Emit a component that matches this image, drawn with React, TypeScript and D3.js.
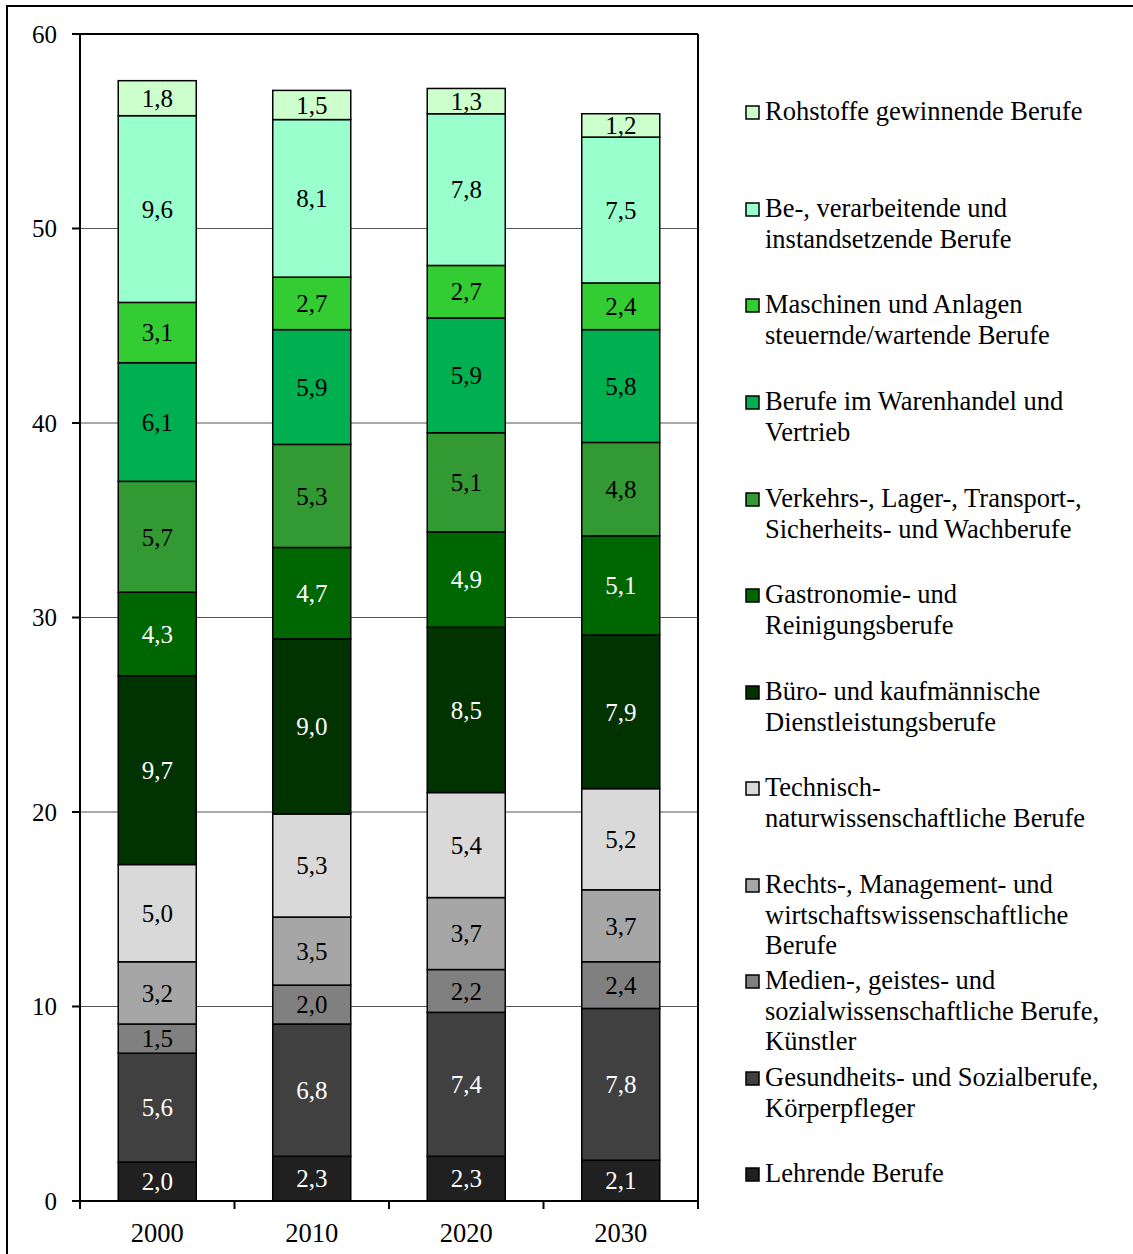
import React from "react";
import * as d3 from "d3";

const years = ["2000", "2010", "2020", "2030"];

// bottom to top stacking order
const seriesNames = [
  "Lehrende Berufe",
  "Gesundheits- und Sozialberufe, Körperpfleger",
  "Medien-, geistes- und sozialwissenschaftliche Berufe, Künstler",
  "Rechts-, Management- und wirtschaftswissenschaftliche Berufe",
  "Technisch-naturwissenschaftliche Berufe",
  "Büro- und kaufmännische Dienstleistungsberufe",
  "Gastronomie- und Reinigungsberufe",
  "Verkehrs-, Lager-, Transport-, Sicherheits- und Wachberufe",
  "Berufe im Warenhandel und Vertrieb",
  "Maschinen und Anlagen steuernde/wartende Berufe",
  "Be-, verarbeitende und instandsetzende Berufe",
  "Rohstoffe gewinnende Berufe",
];

const lehrende = [2.0, 2.3, 2.3, 2.1];
const gesundheit = [5.6, 6.8, 7.4, 7.8];
const medien = [1.5, 2.0, 2.2, 2.4];
const rechts = [3.2, 3.5, 3.7, 3.7];
const technisch = [5.0, 5.3, 5.4, 5.2];
const buero = [9.7, 9.0, 8.5, 7.9];
const gastro = [4.3, 4.7, 4.9, 5.1];
const verkehr = [5.7, 5.3, 5.1, 4.8];
const warenhandel = [6.1, 5.9, 5.9, 5.8];
const maschinen = [3.1, 2.7, 2.7, 2.4];
const verarbeitend = [9.6, 8.1, 7.8, 7.5];
const rohstoffe = [1.8, 1.5, 1.3, 1.2];

const seriesValues = [
  lehrende, gesundheit, medien, rechts, technisch, buero,
  gastro, verkehr, warenhandel, maschinen, verarbeitend, rohstoffe,
];

const colors = [
  "#202020", "#404040", "#808080", "#a6a6a6", "#d9d9d9", "#003300",
  "#006600", "#339933", "#00b050", "#33cc33", "#99ffcc", "#ccffcc",
];
const textColors = [
  "#ffffff", "#ffffff", "#000000", "#000000", "#000000", "#ffffff",
  "#ffffff", "#000000", "#000000", "#000000", "#000000", "#000000",
];

// legend, top to bottom, with line breaks
const legendLines: string[][] = [
  ["Rohstoffe gewinnende Berufe"],
  ["Be-, verarbeitende und", "instandsetzende Berufe"],
  ["Maschinen und Anlagen", "steuernde/wartende Berufe"],
  ["Berufe im Warenhandel und", "Vertrieb"],
  ["Verkehrs-, Lager-, Transport-,", "Sicherheits- und Wachberufe"],
  ["Gastronomie- und", "Reinigungsberufe"],
  ["Büro- und kaufmännische", "Dienstleistungsberufe"],
  ["Technisch-", "naturwissenschaftliche Berufe"],
  ["Rechts-, Management- und", "wirtschaftswissenschaftliche", "Berufe"],
  ["Medien-, geistes- und", "sozialwissenschaftliche Berufe,", "Künstler"],
  ["Gesundheits- und Sozialberufe,", "Körperpfleger"],
  ["Lehrende Berufe"],
];
const legendBaselines = [120, 217, 313, 410, 507, 603, 700, 796, 893, 989, 1086, 1182];

const yTicks = [0, 10, 20, 30, 40, 50, 60];

const FONT = "'Liberation Serif', 'Times New Roman', serif";

export default function App() {
  const W = 1133, H = 1254;
  const left = 80, right = 698, top = 34, bottom = 1201;

  const x = d3.scaleBand<string>().domain(years).range([left, right])
    .paddingInner(0.495).paddingOuter(0.2475);
  const y = d3.scaleLinear().domain([0, 60]).range([bottom, top]);

  const table = years.map((yr, i) => {
    const row: any = { year: yr };
    seriesNames.forEach((s, k) => (row[s] = seriesValues[k][i]));
    return row;
  });
  const stacked = d3.stack<any>().keys(seriesNames)(table);

  const fmt = (v: number) => v.toFixed(1).replace(".", ",");

  const boundaries = d3.range(years.length + 1).map((i) =>
    i === years.length ? right : left + i * x.step()
  );

  const legendIndex = (li: number) => seriesNames.length - 1 - li;

  return (
    <svg width={W} height={H} style={{ position: "absolute", left: 0, top: 0, background: "#fff" }}
      fontFamily={FONT}>
      <rect x={0} y={0} width={W} height={H} fill="#fff" />
      {/* outer frame */}
      <rect x={7} y={6} width={W + 20} height={H + 20} fill="none" stroke="#000" strokeWidth={2} />

      {/* gridlines */}
      {yTicks.filter((t) => t > 0 && t < 60).map((t) => (
        <line key={t} x1={left} x2={right} y1={y(t)} y2={y(t)} stroke="#555" strokeWidth={1.2} />
      ))}

      {/* bars */}
      {stacked.map((layer, k) => (
        <g key={k}>
          {layer.map((d, i) => {
            const x0 = x(years[i])!;
            const y0 = y(d[1]);
            const h = y(d[0]) - y(d[1]);
            return (
              <g key={i}>
                <rect x={x0} y={y0} width={x.bandwidth()} height={h}
                  fill={colors[k]} stroke="#000" strokeWidth={1.5} />
                <text x={x0 + x.bandwidth() / 2} y={y0 + h / 2} dy="0.35em"
                  textAnchor="middle" fontSize={25} fill={textColors[k]}>
                  {fmt(seriesValues[k][i])}
                </text>
              </g>
            );
          })}
        </g>
      ))}

      {/* plot frame */}
      <line x1={left} x2={left} y1={top} y2={bottom} stroke="#000" strokeWidth={2} />
      <line x1={right} x2={right} y1={top} y2={bottom} stroke="#000" strokeWidth={2} />
      <line x1={left - 8} x2={right} y1={top} y2={top} stroke="#000" strokeWidth={2} />
      <line x1={left - 8} x2={right} y1={bottom} y2={bottom} stroke="#000" strokeWidth={2} />

      {/* y ticks */}
      {yTicks.map((t) => (
        <g key={t}>
          <line x1={left - 8} x2={left} y1={y(t)} y2={y(t)} stroke="#000" strokeWidth={2} />
          <text x={57} y={y(t)} dy="0.35em" textAnchor="end" fontSize={25} fill="#000">{t}</text>
        </g>
      ))}

      {/* x ticks */}
      {boundaries.map((bx, i) => (
        <line key={i} x1={bx} x2={bx} y1={bottom} y2={bottom + 8} stroke="#000" strokeWidth={2} />
      ))}
      {years.map((yr) => (
        <text key={yr} x={x(yr)! + x.bandwidth() / 2} y={1242} textAnchor="middle" fontSize={26.5} fill="#000">
          {yr}
        </text>
      ))}

      {/* legend */}
      {legendLines.map((lines, li) => {
        const k = legendIndex(li);
        const b = legendBaselines[li];
        return (
          <g key={li}>
            <rect x={746} y={b - 14} width={13} height={13} fill={colors[k]} stroke="#000" strokeWidth={1.5} />
            {lines.map((ln, j) => (
              <text key={j} x={765} y={b + j * 30.5} fontSize={26.5} fill="#000">{ln}</text>
            ))}
          </g>
        );
      })}
    </svg>
  );
}
